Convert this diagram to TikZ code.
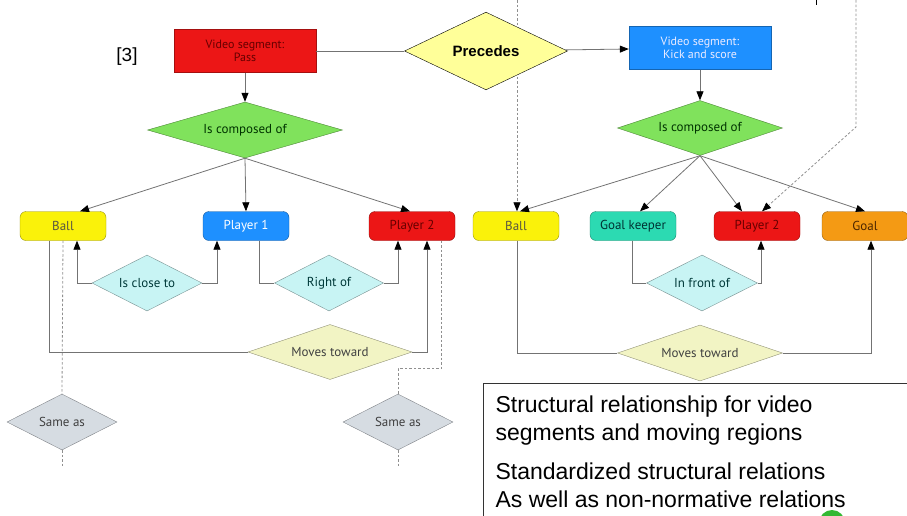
\documentclass[tikz,border=0pt]{standalone}
\usepackage{fontspec}
\usetikzlibrary{shapes.geometric,arrows.meta,backgrounds}
\newfontfamily\lblfont{PT Sans}
\newfontfamily\arialfont{Liberation Sans}

\definecolor{segred}{RGB}{236,22,22}
\definecolor{segblue}{RGB}{30,144,255}
\definecolor{ballyel}{RGB}{250,242,10}
\definecolor{compgreen}{RGB}{128,226,92}
\definecolor{relcyan}{RGB}{200,244,244}
\definecolor{movyel}{RGB}{242,244,196}
\definecolor{samegray}{RGB}{214,220,226}
\definecolor{keepteal}{RGB}{44,218,178}
\definecolor{goalorange}{RGB}{244,154,20}
\definecolor{precyel}{RGB}{255,255,153}
\definecolor{linegray}{RGB}{115,115,115}

\tikzset{
  lbl/.style={font=\lblfont\fontsize{13}{14}\selectfont},
  segbox/.style={font=\lblfont\fontsize{12}{13}\selectfont, rectangle, draw=#1!70!black, fill=#1, minimum width=142, minimum height=43, align=center, inner sep=1},
  regbox/.style={lbl, rectangle, rounded corners=6, draw=#1!60!black, fill=#1, minimum width=86, minimum height=29, inner sep=1},
  rel/.style={lbl, diamond, draw=#1!60!black, fill=#1, inner sep=0, aspect=2},
  conn/.style={draw=linegray, line width=0.8},
  arr/.style={conn, -{Triangle[length=9,width=7,color=black]}},
  sameline/.style={draw=linegray!80, line width=0.8, dash pattern=on 2.5 off 2},
}

\begin{document}
\begin{tikzpicture}[x=1pt,y=-1pt]
  \useasboundingbox (0,0) rectangle (907,515);

  % video segments
  \node[segbox=segred, text=red!40!black] (pass) at (245,51) {Video segment:\\Pass};
  \node[segbox=segblue, text=white!92!blue] (kick) at (700,48) {Video segment:\\Kick and score};
  \node[diamond, draw=black, fill=precyel, inner sep=0, minimum width=163, minimum height=77,
        font=\arialfont\bfseries\fontsize{15}{17}\selectfont] (prec) at (486,51) {Precedes};
  \node[font=\arialfont\fontsize{19}{21}\selectfont] (ref) at (127,57) {[3]};

  \draw[conn] (pass) -- (prec);
  \draw[arr] (prec) -- (kick);

  % composition
  \node[rel=compgreen, text=green!20!black, minimum width=195, minimum height=56] (lcomp) at (245,130) {Is composed of};
  \node[rel=compgreen, text=green!20!black, minimum width=165, minimum height=55] (rcomp) at (700,128) {Is composed of};
  \draw[arr] (pass) -- (lcomp);
  \draw[arr] (kick) -- (rcomp);

  % moving regions, left
  \node[regbox=ballyel, text=yellow!25!black] (lball) at (63,226) {Ball};
  \node[regbox=segblue, text=white] (lp1) at (246,226) {Player 1};
  \node[regbox=segred, text=red!40!black] (lp2) at (412,226) {Player 2};
  % moving regions, right
  \node[regbox=ballyel, text=yellow!25!black] (rball) at (516,226) {Ball};
  \node[regbox=keepteal, text=teal!40!black] (keeper) at (633,226) {Goal keeper};
  \node[regbox=segred, text=red!40!black] (rp2) at (757,226) {Player 2};
  \node[regbox=goalorange, text=orange!30!black] (goal) at (865,226) {Goal};

  \draw[arr] (lcomp.south) -- ([xshift=17]lball.north);
  \draw[arr] (lcomp.south) -- (lp1.north);
  \draw[arr] (lcomp.south) -- ([xshift=-2]lp2.north);
  \draw[arr] (rcomp.south) -- ([xshift=4]rball.north);
  \draw[arr] (rcomp.south) -- ([xshift=7]keeper.north);
  \draw[arr] (rcomp.south) -- ([xshift=-15]rp2.north);
  \draw[arr] (rcomp.south) -- (goal.north);

  % spatial relations
  \node[rel=relcyan, text=teal!45!black, minimum width=110, minimum height=56] (close) at (147,283) {Is close to};
  \node[rel=relcyan, text=teal!45!black, minimum width=109, minimum height=56] (rightof) at (329,283) {Right of};
  \node[rel=relcyan, text=teal!45!black, minimum width=111, minimum height=56] (front) at (702,283) {In front of};
  \node[rel=movyel, text=black!75, minimum width=164, minimum height=55] (lmoves) at (330,352) {Moves toward};
  \node[rel=movyel, text=black!75, minimum width=165, minimum height=56] (rmoves) at (700,353) {Moves toward};
  \node[rel=samegray, text=black!75, minimum width=110, minimum height=56] (same1) at (62,422) {Same as};
  \node[rel=samegray, text=black!75, minimum width=110, minimum height=56] (same2) at (398,422) {Same as};

  \draw[arr] (close.west) -| ([xshift=14]lball.south);
  \draw[arr] (close.east) -| ([xshift=-29]lp1.south);
  \draw[conn] ([xshift=13]lp1.south) |- (rightof.west);
  \draw[arr] (rightof.east) -| ([xshift=-14]lp2.south);
  \draw[conn] ([xshift=-14]lball.south) |- (lmoves.west);
  \draw[arr] (lmoves.east) -| ([xshift=15]lp2.south);

  \draw[conn] ([xshift=-1]keeper.south) |- (front.west);
  \draw[arr] (front.east) -| ([xshift=4]rp2.south);
  \draw[conn] ([xshift=1]rball.south) |- (rmoves.west);
  \draw[arr] (rmoves.east) -| ([xshift=6]goal.south);

  % same as links
  \coordinate (enda) at (62,468);
  \coordinate (endb) at (398,468);
  \draw[sameline] (lball.south) -- (same1.north);
  \draw[sameline] (same1.south) -- (enda);
  \draw[sameline] ([xshift=29]lp2.south) -- ++(0,128) -| (same2.north);
  \draw[sameline] (same2.south) -- (endb);

  % links from above, behind the Precedes diamond
  \coordinate (topa) at (517,0);
  \coordinate (topb) at (856,0);
  \coordinate (tick) at (816,0);
  \begin{pgfonlayer}{background}
    \draw[sameline, -{Triangle[length=9,width=7,color=black]}] (topa) -- ([xshift=1]rball.north);
    \draw[sameline, -{Triangle[length=9,width=7,color=black]}] (topb) -- (856,127) -- ([xshift=5]rp2.north);
  \end{pgfonlayer}
  \draw[black, line width=0.8] (tick) -- ++(0,5);

  % note
  \begin{scope}
    \clip (0,0) rectangle (907,515);
    \fill[green!65!black!80] (832,523) circle (13);
    \draw[black!80, line width=0.8] (910,383) -- (483,383) -- (483,520);
  \end{scope}
  \node[font=\arialfont\fontsize{23}{28}\selectfont, anchor=base west] (n1) at (492,412) {Structural relationship for video};
  \node[font=\arialfont\fontsize{23}{28}\selectfont, anchor=base west] (n2) at (492,440) {segments and moving regions};
  \node[font=\arialfont\fontsize{23}{28}\selectfont, anchor=base west] (n3) at (492,479) {Standardized structural relations};
  \node[font=\arialfont\fontsize{23}{28}\selectfont, anchor=base west] (n4) at (492,507) {As well as non-normative relations};
\end{tikzpicture}
\end{document}
